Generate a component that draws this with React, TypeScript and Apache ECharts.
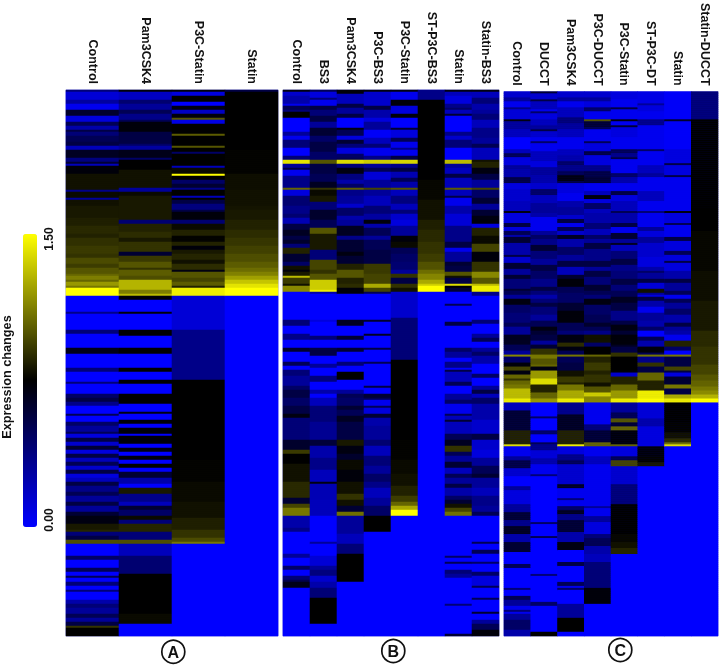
import React, { useEffect, useRef } from "react";
import * as echarts from "echarts";

const ROW_COUNT = 273;
const rowLabels: string[] = [];
for (let i = 0; i < ROW_COUNT; i++) rowLabels.push(String(i));

const labelsA = ["Control", "Pam3CSK4", "P3C-Statin", "Statin"];
const labelsB = ["Control", "BS3", "Pam3CSK4", "P3C-BS3", "P3C-Statin", "ST-P3C-BS3", "Statin", "Statin-BS3"];
const labelsC = ["Control", "DUCCT", "Pam3CSK4", "P3C-DUCCT", "P3C-Statin", "ST-P3C-DT", "Statin", "Statin-DUCCT"];

// Each column: runs of [first row, expression value]; a value holds until the next run.
const aControl = [[0,.4],[1,.12],[5,.28],[7,.05],[10,.62],[13,.1],[16,.5],[18,.25],[20,.55],[21,.4],[23,.5],[26,.55],[28,.2],[30,.65],[34,.38],[36,.6],[37,.2],[38,.72],[42,.8],[50,.35],[51,.78],[54,.3],[55,.8],[58,.82],[64,.84],[68,.87],[72,.85],[74,.89],[78,.92],[82,.9],[84,.97],[87,.93],[89,1],[92,1.05],[93,1.12],[95,1.05],[96,1.2],[98,1.1],[99,1.5],[103,0],[111,.35],[112,0],[120,.4],[122,0],[129,.68],[132,0],[139,.4],[141,0],[146,.4],[147,0],[152,.45],[154,.55],[156,.35],[158,0],[162,.5],[163,0],[166,.45],[168,.3],[171,.5],[172,.1],[174,.55],[176,.15],[178,.6],[180,.1],[182,.55],[184,.2],[186,.5],[188,.15],[190,.55],[192,.1],[194,.2],[196,.55],[198,.35],[201,.5],[203,.3],[206,.55],[208,.3],[211,.6],[213,.7],[217,.82],[220,.86],[221,.4],[223,.55],[225,.98],[227,0],[233,.45],[235,0],[239,.5],[241,0],[243,.5],[244,0],[246,.4],[248,0],[250,.4],[251,0],[255,.25],[257,.4],[259,.3],[262,.5],[264,.3],[266,.55],[268,.9],[269,.75]];
const aPam = [[0,.72],[1,.18],[5,.42],[7,.3],[10,.5],[12,.35],[15,.5],[16,.72],[21,.55],[27,.45],[28,.28],[30,.68],[34,.45],[35,.75],[40,.8],[49,.3],[51,.78],[53,.82],[65,.42],[67,.85],[71,.88],[74,.82],[76,.9],[81,.6],[83,.92],[86,1],[89,.9],[90,1.02],[93,.98],[95,1.28],[100,1.12],[102,1.3],[103,.72],[105,0],[111,.72],[112,0],[120,.75],[123,0],[129,.75],[132,0],[139,.75],[141,0],[145,.75],[147,0],[152,.75],[157,0],[161,.7],[162,0],[165,.72],[167,0],[169,.72],[172,0],[173,.72],[177,0],[179,.7],[181,0],[183,.72],[185,0],[187,.75],[189,0],[191,.6],[194,.25],[197,0],[199,.82],[202,.35],[206,.2],[208,.6],[210,.45],[213,.78],[215,.4],[217,.86],[221,.4],[225,.98],[227,.2],[233,.42],[242,.75],[262,.78],[267,0]];
const aP3c = [[0,.72],[1,.1],[3,.75],[6,0],[8,.7],[10,.18],[12,.72],[14,1],[15,.08],[17,.75],[22,1.02],[23,.75],[28,1],[29,.75],[31,.45],[32,.75],[38,.2],[39,.78],[42,1.5],[43,.75],[45,.45],[47,.6],[49,.35],[50,.75],[53,.2],[54,.75],[55,.55],[57,.38],[60,.55],[61,.72],[65,.42],[67,.78],[70,.85],[73,.76],[76,.85],[78,.72],[80,.82],[82,.86],[85,.8],[87,.88],[90,.7],[91,1],[94,.95],[96,1.02],[98,.85],[99,1.45],[103,.12],[120,.35],[145,.75],[185,.76],[196,.78],[206,.8],[214,.84],[220,.9],[224,.97],[226,1.1],[227,0]];
const aStatin = [[0,.55],[1,.75],[30,.76],[42,.79],[50,.8],[58,.81],[60,.82],[65,.85],[70,.88],[74,.91],[78,.94],[82,.98],[86,1.02],[89,1.07],[91,1.13],[93,1.22],[95,1.33],[97,1.42],[99,1.5],[103,0]];

const bControl = [[0,.7],[1,.15],[3,.25],[7,.05],[8,.5],[10,.4],[11,.75],[14,0],[21,.3],[23,.05],[25,.4],[29,0],[33,.4],[35,1.42],[37,.3],[39,.55],[40,.05],[43,.35],[49,1.05],[50,.1],[53,.42],[58,.35],[62,.42],[64,.22],[67,.55],[70,.65],[73,.55],[75,.62],[77,.4],[79,.85],[82,.6],[86,.45],[88,.8],[90,.72],[91,.82],[93,1.3],[94,.92],[97,.8],[98,1.15],[101,0],[103,0],[115,.4],[118,0],[122,.35],[125,0],[129,.62],[131,0],[136,.5],[138,0],[140,.4],[143,.3],[148,.45],[150,.55],[154,.45],[158,.55],[162,.7],[164,.4],[175,.62],[180,.92],[182,.75],[187,.8],[196,.87],[204,.6],[207,.95],[209,1.1],[213,.25],[219,.35],[221,0],[232,.3],[234,0],[238,.45],[240,0],[243,.4],[245,.52],[246,.68],[249,0]];
const bBs3 = [[0,.5],[1,.1],[4,.4],[5,.05],[8,.55],[10,.4],[13,.55],[16,.3],[19,.6],[23,.45],[26,.55],[31,.45],[35,1],[37,.55],[42,.5],[46,.65],[49,.9],[50,.78],[53,.82],[56,.4],[60,.62],[65,.5],[69,1],[72,.82],[80,.4],[85,.95],[90,.9],[92,1],[95,1.35],[100,1.45],[101,.25],[102,0],[115,.1],[116,0],[123,.4],[125,0],[129,.55],[133,0],[137,.3],[139,0],[143,.38],[146,0],[150,.25],[152,0],[154,.2],[158,.4],[166,.32],[175,.58],[178,.25],[184,.35],[190,.2],[196,.7],[197,.22],[205,.2],[213,0],[226,.3],[227,0],[233,.12],[238,.3],[240,.38],[243,.15],[246,.25],[249,.4],[254,.75],[267,0]];
const bPam = [[0,.72],[2,.2],[7,.55],[9,.3],[12,.55],[14,0],[19,.7],[20,.5],[23,.1],[25,.6],[27,.4],[29,.1],[32,.45],[34,.5],[35,1.4],[37,.4],[39,.7],[42,.38],[45,.25],[47,.45],[49,1.02],[50,.35],[53,.3],[57,.15],[59,.45],[63,.25],[65,.3],[68,.65],[73,.35],[75,.6],[81,.7],[83,.6],[87,.85],[90,1],[94,.85],[97,.88],[99,.72],[102,0],[115,.65],[118,0],[123,.6],[125,0],[129,.6],[131,0],[136,.4],[138,0],[141,.75],[145,0],[150,.3],[152,.5],[154,.45],[158,.6],[160,.5],[163,.65],[166,.55],[175,.82],[178,.7],[182,.62],[185,.78],[190,.72],[196,.8],[202,.9],[205,.8],[208,.6],[211,1.08],[213,.3],[222,.2],[227,.4],[232,.75],[246,0]];
const bP3b = [[0,.7],[1,.15],[8,.55],[10,.25],[14,.1],[16,.3],[20,.02],[24,.2],[27,.4],[29,.05],[33,.35],[35,1.35],[37,.3],[39,.5],[41,.12],[45,.3],[49,.95],[50,.3],[53,.2],[58,.4],[62,.28],[65,.72],[67,.25],[69,.5],[73,.3],[75,.5],[80,.55],[85,.55],[87,.92],[92,.95],[97,1.25],[99,.95],[101,.5],[102,0],[115,.62],[116,0],[122,.65],[123,0],[129,.55],[130,0],[136,.5],[137,0],[148,.55],[149,0],[152,.6],[154,.5],[155,.05],[158,.5],[159,.1],[162,.6],[164,.25],[168,.3],[175,.42],[178,.2],[183,.4],[188,.3],[192,.45],[196,.35],[199,.2],[204,.3],[208,.45],[213,.75],[221,0]];
const bP3s = [[0,.7],[1,.05],[5,.72],[8,.1],[12,.72],[14,0],[19,.6],[20,.1],[24,.5],[26,.05],[29,.35],[30,.05],[33,.55],[35,1.38],[37,.35],[39,.55],[41,.22],[44,.5],[46,.25],[49,1],[50,.2],[53,.38],[57,.2],[60,.4],[62,.15],[65,.1],[68,.3],[73,.72],[76,.78],[79,.5],[82,.45],[86,.42],[90,.3],[92,.9],[94,.55],[97,.9],[99,.8],[101,.15],[114,.4],[135,.75],[175,.76],[185,.78],[192,.8],[198,.85],[203,.93],[206,1.05],[208,1.25],[210,1.5],[213,0]];
const bSt = [[0,.35],[5,.75],[45,.77],[55,.8],[65,.84],[70,.87],[76,.9],[82,.93],[86,.99],[90,1.07],[92,1.14],[95,1.25],[97,1.36],[98,1.5],[101,0]];
const bStatin = [[0,.7],[1,.2],[3,.1],[7,.35],[9,.45],[10,.2],[12,.6],[13,0],[21,.35],[23,.15],[25,.4],[29,0],[35,1.3],[37,.3],[39,.2],[42,.55],[44,.2],[49,1.02],[50,.2],[53,.55],[54,.05],[58,.25],[62,.12],[65,.12],[68,.35],[76,.55],[79,.05],[81,.3],[86,.6],[88,.55],[91,1],[93,.8],[94,.55],[97,1.4],[98,.75],[99,.6],[101,0],[107,.5],[108,0],[116,.55],[118,0],[129,.45],[131,.3],[134,0],[136,.35],[139,0],[140,.55],[141,.2],[146,.5],[148,0],[152,.3],[155,.45],[157,.05],[162,.5],[163,.2],[165,.6],[166,.2],[172,.5],[175,.65],[178,.9],[181,.5],[183,.3],[186,.6],[189,.2],[192,.5],[194,.3],[197,.55],[199,.25],[203,.45],[205,.6],[207,.8],[209,.95],[211,1.08],[213,0],[233,.45],[234,0],[236,.5],[237,0],[240,.4],[242,.3],[244,0],[257,.4],[258,0],[272,.6]];
const bStatinB = [[0,.7],[1,.2],[4,.4],[7,.25],[10,.3],[12,.4],[15,.2],[19,.35],[24,.3],[27,.5],[29,.2],[35,.8],[36,.85],[39,.7],[42,.55],[45,.3],[49,.95],[50,.45],[54,.6],[57,.3],[60,.6],[63,.7],[65,.72],[67,.1],[69,.85],[73,.78],[77,.95],[81,.72],[86,.9],[91,1.15],[94,1],[97,1.3],[98,1.45],[101,.35],[103,0],[115,.4],[117,0],[122,.3],[124,.5],[126,0],[129,.3],[131,.45],[133,.25],[137,0],[142,.45],[144,0],[148,.3],[150,.55],[152,.2],[154,.45],[157,.25],[165,.15],[172,.55],[175,.15],[180,.1],[184,.3],[188,.5],[192,.6],[194,.3],[199,.2],[203,.35],[208,.3],[211,.5],[213,0],[226,.5],[227,0],[230,.5],[232,0],[236,.45],[237,0],[241,.45],[243,.1],[248,.5],[249,0],[254,.5],[255,0],[261,.6],[262,0],[265,.3],[267,.5],[270,.72]];

const cControl = [[0,.15],[3,.3],[5,.05],[8,.35],[9,.12],[14,.7],[15,.3],[19,.2],[23,0],[29,.2],[31,.5],[33,.1],[37,.3],[39,.25],[43,.55],[46,.1],[49,.15],[55,.2],[60,.7],[61,.1],[66,.55],[68,.1],[70,.5],[72,.25],[73,.6],[76,.25],[82,.55],[83,.15],[86,.6],[89,.3],[92,.6],[94,.4],[99,.6],[100,.5],[102,.3],[104,.7],[107,.45],[111,.4],[116,.5],[118,.3],[120,.3],[122,.65],[127,.5],[130,.3],[132,1.15],[133,.45],[136,.72],[138,.95],[140,.7],[142,1.05],[144,.9],[145,1.05],[147,1.1],[149,1.3],[154,1.45],[156,.2],[160,.6],[170,.85],[177,1.4],[178,.05],[183,.3],[185,.55],[189,.15],[193,0],[198,.3],[200,.1],[207,.3],[211,.6],[215,.35],[218,.65],[222,.25],[226,.6],[231,0],[237,.5],[239,0],[249,.4],[250,0],[253,.5],[255,.3],[258,.05],[260,.4],[261,.05],[262,.3],[265,.45],[270,.25]];
const cDucct = [[0,.6],[1,.15],[4,.55],[5,.2],[9,.05],[10,.45],[11,.1],[14,.2],[17,.3],[19,.55],[20,.15],[23,.05],[25,.45],[26,.05],[30,.2],[35,.1],[38,.3],[42,.25],[46,.15],[49,.45],[52,.2],[56,.3],[61,.25],[63,.05],[70,.3],[72,.45],[74,.35],[77,.6],[80,.4],[84,.3],[87,.55],[90,.45],[94,.35],[98,.55],[100,.4],[102,.25],[104,.4],[106,.55],[108,.4],[112,.3],[115,.5],[118,.7],[120,.6],[122,.55],[125,.3],[127,.6],[129,.9],[132,1.1],[134,1],[137,1.05],[138,.7],[140,1.2],[144,1.4],[147,.85],[151,1.05],[154,1.2],[156,0],[163,.45],[164,0],[170,.45],[172,0],[176,.5],[177,.35],[178,.35],[180,.12],[184,.25],[187,.05],[192,.4],[193,0],[216,.45],[217,0],[223,.5],[224,0],[242,.4],[243,0],[256,.45],[258,0],[271,.75]];
const cPam = [[0,.15],[3,.3],[5,.05],[8,.2],[13,.4],[16,.3],[19,.2],[23,.05],[29,.2],[32,.25],[35,.45],[37,.35],[40,.5],[42,.7],[45,.55],[46,.1],[51,.05],[55,.25],[58,.3],[62,.15],[64,.55],[66,.05],[68,.5],[70,.15],[72,.65],[74,.25],[78,.45],[82,.3],[85,.55],[88,.2],[92,.6],[94,.72],[98,.5],[101,.45],[106,.6],[110,.72],[116,.5],[120,.4],[122,.7],[126,.88],[128,.7],[130,.5],[132,1.1],[133,.5],[136,.55],[140,.8],[143,.92],[146,.85],[147,1.1],[150,1.25],[154,1.45],[156,.35],[162,.65],[170,.85],[177,1.45],[178,.1],[182,.35],[185,.5],[187,.15],[197,.65],[199,.05],[204,.4],[205,.05],[208,.45],[210,.65],[212,.35],[215,.6],[221,.25],[226,.7],[230,0],[236,.55],[238,0],[246,.5],[248,.05],[249,.45],[250,0],[257,.3],[264,.75],[271,0]];
const cP3d = [[0,.15],[3,.3],[5,.1],[8,.45],[10,.05],[14,1],[15,.6],[18,.5],[19,.05],[23,.05],[25,.5],[26,.1],[30,.55],[32,.1],[37,.35],[40,.55],[43,.6],[46,.05],[50,.2],[52,.72],[54,.1],[56,.45],[59,.2],[61,.25],[66,.4],[69,.2],[72,.45],[74,.3],[76,.55],[79,.35],[85,.55],[88,.3],[90,.55],[93,.4],[97,.6],[100,.5],[102,.4],[104,.7],[107,.45],[112,.5],[116,.62],[118,.5],[120,.35],[122,.8],[126,.45],[128,.75],[132,1.05],[133,.85],[136,.92],[140,.85],[142,.9],[146,.8],[148,1],[151,1.35],[153,1.15],[156,.05],[167,.4],[170,.6],[176,1.05],[178,.05],[183,.2],[187,.05],[208,.3],[209,.05],[213,.3],[216,.1],[222,.4],[224,.5],[228,.25],[232,.2],[236,.4],[249,.72],[257,0]];
const cP3s = [[0,.1],[4,.05],[8,.55],[9,.05],[14,.7],[15,.05],[17,.6],[18,.1],[23,.05],[29,.5],[31,.35],[33,.55],[34,.05],[41,.45],[43,.25],[46,.05],[50,.55],[52,.1],[55,.2],[60,.5],[61,.25],[66,.55],[68,.05],[71,.6],[74,.3],[76,.65],[77,.2],[80,.4],[84,.55],[87,.35],[90,.4],[94,.55],[97,.4],[100,.5],[103,.65],[106,.55],[110,.35],[115,.55],[117,.7],[120,.6],[122,.72],[127,.65],[128,.55],[131,.9],[133,.75],[140,.72],[141,.15],[143,.85],[147,1.05],[150,1.2],[154,1.45],[156,.3],[161,.5],[164,1],[166,.6],[168,1.05],[170,.72],[177,1.05],[178,.1],[183,.5],[185,.95],[188,.15],[197,.4],[207,.75],[222,.77],[226,.8],[229,.86],[232,0]];
const cSt = [[0,.08],[6,.3],[7,.1],[10,.05],[14,.35],[17,.05],[29,.45],[30,.05],[37,.2],[41,.3],[43,.05],[50,.2],[55,.05],[60,.4],[61,.05],[68,.3],[70,.1],[73,.3],[76,.15],[83,.1],[88,.25],[90,.45],[91,.3],[94,.55],[96,.12],[99,.8],[101,.3],[102,.1],[103,.55],[105,.25],[108,.05],[111,.3],[115,.25],[118,.45],[120,0],[123,.5],[125,.25],[128,.72],[131,.5],[132,1.1],[133,.35],[136,.9],[138,.55],[141,1.05],[145,.85],[150,1.45],[154,1.5],[156,.12],[164,.25],[168,.1],[178,.72],[183,.76],[186,.82],[188,0]];
const cStatin = [[0,.02],[14,.62],[15,.02],[29,.1],[36,.55],[37,.1],[42,.55],[43,.05],[60,.7],[61,.1],[66,.5],[67,.05],[73,.55],[75,.1],[80,.5],[82,.1],[85,.55],[86,.1],[90,.25],[94,.55],[96,.3],[100,.5],[102,.05],[104,.5],[106,.3],[109,.45],[112,.25],[116,.55],[118,.3],[120,.25],[122,.05],[125,.85],[128,.45],[130,0],[132,1.1],[133,.55],[138,.95],[140,.55],[141,.1],[143,.6],[147,1.1],[149,.55],[152,1.25],[154,1.45],[156,.75],[166,.76],[171,.8],[174,.88],[176,1.08],[177,1.4],[178,0]];
const cStatinD = [[0,.4],[14,.75],[70,.77],[90,.79],[105,.82],[120,.87],[128,.9],[137,.95],[142,1],[145,1.04],[148,1.1],[150,1.16],[152,1.28],[154,1.5],[156,0]];

const columnsA = [aControl, aPam, aP3c, aStatin];
const columnsB = [bControl, bBs3, bPam, bP3b, bP3s, bSt, bStatin, bStatinB];
const columnsC = [cControl, cDucct, cPam, cP3d, cP3s, cSt, cStatin, cStatinD];

const legendMin = 0;
const legendMax = 1.5;
const legendColors = ["#0000ff", "#000000", "#ffff00"];
const panelLetters = ["A", "B", "C"];

const FONT = "'Liberation Sans', Arial, sans-serif";

function cells(columns: number[][][]) {
  const out: number[][] = [];
  columns.forEach((runs, c) => {
    let k = 0;
    for (let r = 0; r < ROW_COUNT; r++) {
      while (k + 1 < runs.length && runs[k + 1][0] <= r) k++;
      out.push([c, r, runs[k][1]]);
    }
  });
  return out;
}

export default function App() {
  const ref = useRef<HTMLDivElement>(null);
  useEffect(() => {
    document.body.style.margin = "0";
    const chart = echarts.init(ref.current!, undefined, { renderer: "svg" });
    const panels = [
      { labels: labelsA, columns: columnsA, left: 66, width: 212, top: 90, height: 546 },
      { labels: labelsB, columns: columnsB, left: 283, width: 216, top: 90, height: 546 },
      { labels: labelsC, columns: columnsC, left: 504, width: 214, top: 90, height: 546 },
    ];
    const circles = [[173.3, 651.7], [393.3, 651], [620.3, 650]];
    chart.setOption({
      animation: false,
      backgroundColor: "#ffffff",
      grid: panels.map((p) => ({
        left: p.left, top: p.top, width: p.width, height: p.height,
        show: true, borderColor: "#9a9aee", borderWidth: 1, backgroundColor: "#0000ff", z: 0,
      })),
      xAxis: panels.map((p, i) => ({
        type: "category", gridIndex: i, position: "top", data: p.labels,
        axisLine: { show: false }, axisTick: { show: false }, splitLine: { show: false },
        axisLabel: { rotate: 90, interval: 0, margin: 6, fontFamily: FONT, fontWeight: "bold", fontSize: 12.5, color: "#111111" },
      })),
      yAxis: panels.map((_, i) => ({
        type: "category", gridIndex: i, inverse: true, data: rowLabels,
        axisLine: { show: false }, axisTick: { show: false }, axisLabel: { show: false }, splitLine: { show: false },
      })),
      visualMap: {
        type: "continuous", min: legendMin, max: legendMax, seriesIndex: [0, 1, 2],
        inRange: { color: legendColors }, calculable: false, realtime: false,
        itemWidth: 14, itemHeight: 293, left: 23, top: 234, padding: 0, text: ["", ""], orient: "vertical",
      },
      series: panels.map((p, i) => ({
        type: "heatmap", xAxisIndex: i, yAxisIndex: i, data: cells(p.columns),
        progressive: 0, silent: true, itemStyle: { borderWidth: 0 }, emphasis: { disabled: true },
      })),
      graphic: [
        { type: "text", x: 49, y: 239, rotation: Math.PI / 2, style: { text: "1.50", font: `bold 12px ${FONT}`, fill: "#111", align: "center", verticalAlign: "middle" } },
        { type: "text", x: 49, y: 520, rotation: Math.PI / 2, style: { text: "0.00", font: `bold 12px ${FONT}`, fill: "#111", align: "center", verticalAlign: "middle" } },
        { type: "text", x: 6.5, y: 377, rotation: Math.PI / 2, style: { text: "Expression changes", font: `bold 12.7px ${FONT}`, fill: "#111", align: "center", verticalAlign: "middle" } },
        ...circles.flatMap(([x, y], i) => [
          { type: "circle", shape: { cx: x, cy: y, r: 11.5 }, style: { fill: "#fff", stroke: "#111", lineWidth: 1.7 } },
          { type: "text", x, y: y + 0.5, style: { text: panelLetters[i], font: `bold 16px ${FONT}`, fill: "#111", align: "center", verticalAlign: "middle" } },
        ]),
      ],
    });
    return () => chart.dispose();
  }, []);
  return <div ref={ref} style={{ position: "absolute", left: 0, top: 0, width: 720, height: 665, filter: "blur(0.5px)" }} />;
}
